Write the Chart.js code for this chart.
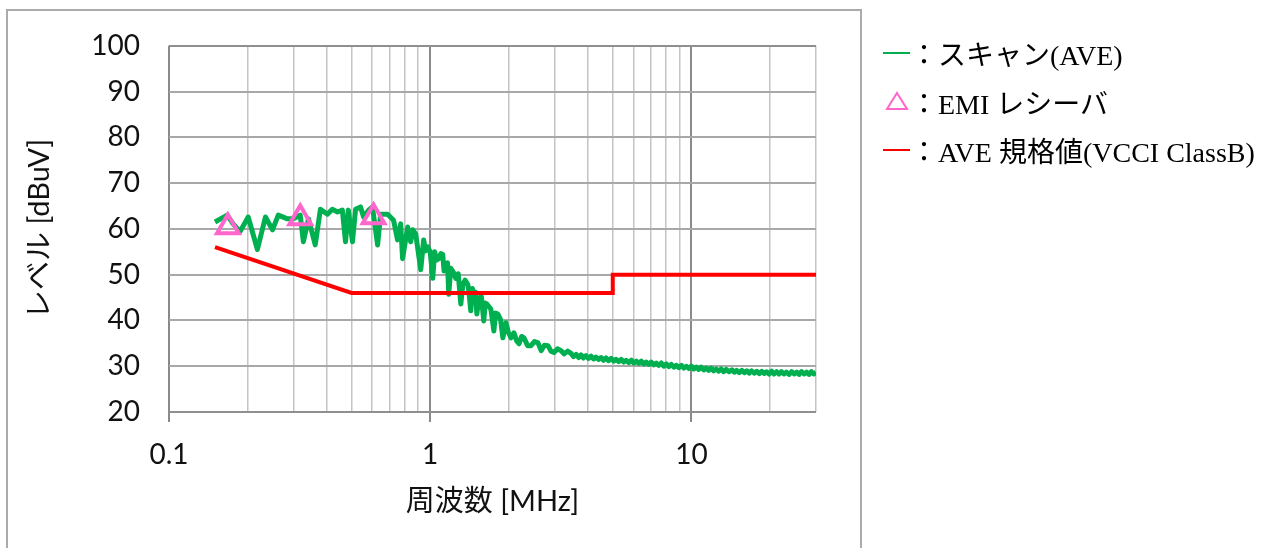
<!DOCTYPE html>
<html>
<head>
<meta charset="utf-8">
<script src="https://cdn.jsdelivr.net/npm/chart.js@4.4.1/dist/chart.umd.min.js"></script>
<style>
  html, body { margin: 0; padding: 0; background: #fff; }
  #wrap { position: relative; width: 1275px; height: 548px; overflow: hidden; }
  #frame { position: absolute; left: 6px; top: 9px; width: 856px; height: 600px; border: 2px solid #ababab; box-sizing: border-box; }
  #chart { position: absolute; left: 0; top: 0; }
  .item { position: absolute; left: 883px; height: 34px; display: flex; align-items: center; white-space: nowrap;
          font-family: 'Liberation Serif', 'Noto Sans CJK JP', serif; font-size: 28px; color: #000; }
  .swatch { width: 27px; height: 2px; }
  .tri { width: 27px; height: 22px; display: flex; justify-content: center; }
</style>
</head>
<body>
<div id="wrap">
  <div id="frame"></div>
  <canvas id="chart" width="1275" height="548"></canvas>
  <div class="item" style="top:36px"><div class="swatch" style="background:#00b050"></div><span>：スキャン(AVE)</span></div>
  <div class="item" style="top:85px"><div class="tri"><svg width="24" height="20" viewBox="0 0 24 20"><polygon points="12,2 22,18 2,18" fill="none" stroke="#ff66cc" stroke-width="2"/></svg></div><span>：EMI レシーバ</span></div>
  <div class="item" style="top:133px"><div class="swatch" style="background:#ff0000"></div><span>：AVE 規格値(VCCI ClassB)</span></div>
</div>
<script>
// Frequency axis grid positions (MHz) and which of them carry a label
const freqTicks = [0.1, 0.2, 0.3, 0.4, 0.5, 0.6, 0.7, 0.8, 0.9, 1, 2, 3, 4, 5, 6, 7, 8, 9, 10, 20, 30];
const freqLabels = [0.1, 1, 10];
const levelTicks = [20, 30, 40, 50, 60, 70, 80, 90, 100];

// Scan trace (average detector): frequency [MHz]
const scanFreq = [
  0.150, 0.167, 0.176, 0.187, 0.201, 0.218, 0.234, 0.249, 0.262, 0.284,
  0.299, 0.318, 0.327, 0.342, 0.363, 0.380, 0.404, 0.422, 0.442, 0.461,
  0.474, 0.486, 0.504, 0.518, 0.541, 0.556, 0.581, 0.601, 0.629, 0.646,
  0.687, 0.724, 0.750, 0.771, 0.784, 0.820, 0.842, 0.857, 0.880, 0.920,
  0.944, 0.960, 0.978, 1.000, 1.023, 1.040, 1.060, 1.079, 1.098, 1.117,
  1.130, 1.148, 1.165, 1.178, 1.199, 1.225, 1.253, 1.280, 1.310, 1.334,
  1.360, 1.393, 1.406, 1.430, 1.450, 1.469, 1.490, 1.509, 1.535, 1.570,
  1.604, 1.625, 1.648, 1.680, 1.707, 1.753, 1.780, 1.816, 1.860, 1.898,
  1.950, 1.990, 2.037, 2.093, 2.140, 2.188, 2.240, 2.286, 2.360, 2.432,
  2.510, 2.587, 2.660, 2.740, 2.825, 2.900, 2.979, 3.070, 3.170, 3.260,
  3.360, 3.460, 3.540, 3.620, 3.700, 3.780, 3.860, 3.950, 4.040, 4.130,
  4.220, 4.310, 4.410, 4.510, 4.610, 4.710, 4.820, 4.930, 5.040, 5.150,
  5.270, 5.390, 5.510, 5.630, 5.760, 5.890, 6.020, 6.150, 6.290, 6.430,
  6.570, 6.720, 6.870, 7.020, 7.180, 7.340, 7.500, 7.670, 7.840, 8.020,
  8.200, 8.380, 8.570, 8.760, 8.960, 9.160, 9.360, 9.570, 9.780, 10.00,
  10.22, 10.45, 10.67, 10.90, 11.15, 11.40, 11.65, 11.90, 12.17, 12.45,
  12.72, 13.00, 13.30, 13.60, 13.95, 14.30, 14.60, 14.90, 15.25, 15.60,
  15.95, 16.30, 16.65, 17.00, 17.40, 17.80, 18.20, 18.60, 19.00, 19.40,
  19.85, 20.30, 20.75, 21.20, 21.65, 22.10, 22.60, 23.10, 23.65, 24.20,
  24.75, 25.30, 25.85, 26.40, 27.00, 27.60, 28.20, 28.80, 29.40, 30.00
];
// Scan trace level [dBuV]
const scanLevel = [
  61.5, 63.0, 61.1, 59.4, 62.6, 55.5, 62.6, 59.8, 63.0, 62.2,
  62.2, 63.0, 57.2, 62.2, 56.5, 64.3, 63.2, 64.3, 63.7, 64.1,
  57.2, 64.1, 57.2, 64.3, 64.8, 62.6, 64.1, 64.8, 56.5, 63.2,
  63.2, 61.9, 57.6, 61.1, 53.5, 60.4, 57.2, 59.8, 58.9, 51.1,
  57.6, 55.2, 56.1, 55.0, 49.2, 55.0, 53.2, 53.5, 54.6, 54.4,
  50.8, 51.8, 52.6, 45.7, 51.4, 50.6, 49.2, 50.2, 43.6, 47.9,
  48.8, 47.9, 46.4, 42.1, 47.0, 45.7, 46.2, 41.4, 44.9, 45.2,
  39.9, 43.8, 43.6, 43.0, 42.5, 37.7, 41.6, 41.4, 40.2, 36.2,
  39.5, 37.5, 36.2, 37.3, 35.6, 34.9, 36.5, 36.2, 34.5, 34.5,
  35.4, 35.1, 33.4, 34.6, 34.5, 33.3, 33.0, 33.8, 33.4, 32.7,
  33.3, 32.8, 32.1, 32.6, 31.9, 32.5, 31.8, 32.3, 31.7, 32.2,
  31.6, 32.0, 31.5, 31.9, 31.3, 31.8, 31.2, 31.7, 31.1, 31.5,
  31.0, 31.5, 30.9, 31.3, 30.8, 31.3, 30.7, 31.1, 30.6, 31.1,
  30.5, 30.9, 30.4, 30.9, 30.3, 30.7, 30.2, 30.7, 30.0, 30.5,
  29.9, 30.4, 29.8, 30.2, 29.7, 30.2, 29.6, 30.0, 29.5, 30.0,
  29.4, 29.8, 29.3, 29.8, 29.2, 29.6, 29.1, 29.6, 29.0, 29.4,
  28.9, 29.4, 28.8, 29.3, 28.8, 29.2, 28.7, 29.1, 28.6, 29.1,
  28.6, 29.0, 28.5, 29.0, 28.5, 28.9, 28.4, 28.9, 28.4, 28.8,
  28.3, 28.9, 28.3, 28.8, 28.3, 28.8, 28.3, 28.7, 28.2, 28.8,
  28.3, 28.7, 28.2, 28.8, 28.3, 28.7, 28.2, 28.8, 28.3, 28.7
];

// EMI receiver readings
const emiFreq = [0.168, 0.318, 0.607];
const emiLevel = [60.4, 62.4, 62.6];

// VCCI Class B average limit
const limitFreq = [0.15, 0.5, 5, 5, 30];
const limitLevel = [56, 46, 46, 50, 50];

const toPoints = (xs, ys) => xs.map((x, i) => ({ x: x, y: ys[i] }));

const tickFont = { family: "Lato, 'Noto Sans CJK JP', sans-serif", size: 28 };
const titleFont = { family: "Lato, 'Noto Sans CJK JP', sans-serif", size: 29 };
const isLabelled = (c) => c.tick && freqLabels.includes(c.tick.value);

new Chart(document.getElementById('chart'), {
  type: 'line',
  data: {
    datasets: [
      {
        label: 'EMI レシーバ',
        data: toPoints(emiFreq, emiLevel),
        showLine: false,
        pointStyle: 'triangle',
        pointRadius: 12.5,
        pointBorderWidth: 4,
        pointBorderColor: '#ff66cc',
        pointBackgroundColor: 'rgba(0,0,0,0)',
        order: 0
      },
      {
        label: 'AVE 規格値(VCCI ClassB)',
        data: toPoints(limitFreq, limitLevel),
        borderColor: '#ff0000',
        borderWidth: 4,
        pointRadius: 0,
        tension: 0,
        order: 1
      },
      {
        label: 'スキャン(AVE)',
        data: toPoints(scanFreq, scanLevel),
        borderColor: '#00b050',
        borderWidth: 5,
        borderJoinStyle: 'round',
        pointRadius: 0,
        tension: 0,
        order: 2
      }
    ]
  },
  options: {
    responsive: false,
    animation: false,
    events: [],
    layout: { padding: { left: 0, top: 42, right: 459, bottom: 0 } },
    plugins: { legend: { display: false }, tooltip: { enabled: false } },
    scales: {
      x: {
        type: 'logarithmic',
        min: 0.1,
        max: 30,
        afterBuildTicks: (s) => { s.ticks = freqTicks.map(v => ({ value: v })); },
        afterFit: (s) => { s.height = 136; },
        border: { display: false },
        grid: {
          color: (c) => isLabelled(c) ? '#8a8a8a' : '#c4c4c4',
          lineWidth: (c) => isLabelled(c) ? 2 : 1.5,
          tickLength: 10,
          tickColor: (c) => isLabelled(c) ? '#8a8a8a' : 'rgba(0,0,0,0)',
          tickWidth: 2
        },
        ticks: {
          autoSkip: false,
          maxRotation: 0,
          padding: 16,
          color: '#111',
          font: tickFont,
          callback: (v) => freqLabels.includes(v) ? String(v) : ''
        },
        title: {
          display: true,
          text: '周波数 [MHz]',
          color: '#111',
          font: titleFont,
          padding: { top: 0, bottom: 29 }
        }
      },
      y: {
        min: 20,
        max: 100,
        afterBuildTicks: (s) => { s.ticks = levelTicks.map(v => ({ value: v })); },
        afterFit: (s) => { s.width = 169; },
        border: { display: false },
        grid: {
          color: (c) => (c.tick && (c.tick.value === 100 || c.tick.value === 20)) ? '#8f8f8f' : '#a8a8a8',
          lineWidth: 2,
          drawTicks: false
        },
        ticks: {
          padding: 29,
          color: '#111',
          font: tickFont
        },
        title: {
          display: true,
          text: 'レベル [dBuV]',
          color: '#111',
          font: titleFont,
          padding: { top: 22, bottom: 0 }
        }
      }
    }
  }
});
</script>
</body>
</html>
